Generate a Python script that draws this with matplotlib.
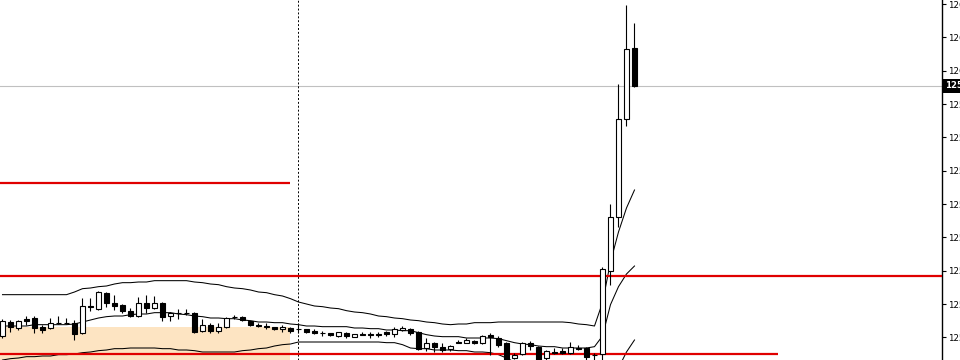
import matplotlib
matplotlib.use("Agg")
import matplotlib.pyplot as plt
import matplotlib.transforms as mtransforms
import numpy as np

# ---- data ----
opens = [125.602, 125.623, 125.614, 125.628, 125.629, 125.616, 125.614, 125.622, 125.622, 125.622,
         125.607, 125.647, 125.643, 125.667, 125.652, 125.649, 125.640, 125.632, 125.652, 125.644,
         125.652, 125.632, 125.637, 125.637, 125.637, 125.610, 125.619, 125.610, 125.616, 125.631,
         125.631, 125.625, 125.619, 125.617, 125.616, 125.613, 125.614, 125.613, 125.613, 125.610,
         125.607, 125.607, 125.602, 125.607, 125.601, 125.605, 125.605, 125.605, 125.608, 125.605,
         125.611, 125.613, 125.608, 125.584, 125.592, 125.586, 125.583, 125.593, 125.592, 125.595,
         125.592, 125.604, 125.599, 125.592, 125.569, 125.575, 125.592, 125.586, 125.569, 125.578,
         125.580, 125.577, 125.584, 125.584, 125.574, 125.575, 125.700, 125.781, 125.928, 126.034]
highs = [125.628, 125.626, 125.626, 125.632, 125.632, 125.619, 125.629, 125.632, 125.629, 125.626,
         125.659, 125.659, 125.670, 125.668, 125.664, 125.650, 125.644, 125.661, 125.664, 125.662,
         125.653, 125.638, 125.643, 125.643, 125.638, 125.628, 125.622, 125.622, 125.631, 125.634,
         125.632, 125.625, 125.622, 125.622, 125.616, 125.619, 125.616, 125.622, 125.613, 125.613,
         125.610, 125.607, 125.608, 125.608, 125.605, 125.608, 125.608, 125.608, 125.610, 125.616,
         125.617, 125.614, 125.610, 125.599, 125.593, 125.592, 125.588, 125.596, 125.599, 125.596,
         125.604, 125.607, 125.602, 125.593, 125.577, 125.593, 125.595, 125.587, 125.581, 125.584,
         125.584, 125.593, 125.589, 125.586, 125.577, 125.706, 125.800, 125.980, 126.099, 126.072]
lows = [125.599, 125.608, 125.611, 125.619, 125.607, 125.607, 125.613, 125.620, 125.620, 125.596,
        125.605, 125.640, 125.641, 125.646, 125.641, 125.637, 125.631, 125.631, 125.637, 125.643,
        125.625, 125.625, 125.628, 125.634, 125.607, 125.608, 125.607, 125.607, 125.614, 125.628,
        125.625, 125.617, 125.616, 125.613, 125.611, 125.608, 125.607, 125.607, 125.607, 125.605,
        125.602, 125.602, 125.601, 125.599, 125.600, 125.603, 125.599, 125.601, 125.602, 125.601,
        125.610, 125.603, 125.581, 125.580, 125.578, 125.578, 125.580, 125.591, 125.591, 125.590,
        125.590, 125.574, 125.586, 125.559, 125.567, 125.573, 125.581, 125.559, 125.566, 125.575,
        125.575, 125.575, 125.581, 125.563, 125.563, 125.563, 125.679, 125.766, 125.917, 125.976]
closes = [125.625, 125.616, 125.625, 125.625, 125.614, 125.611, 125.622, 125.621, 125.621, 125.605,
          125.647, 125.646, 125.668, 125.652, 125.647, 125.640, 125.632, 125.652, 125.644, 125.652,
          125.631, 125.637, 125.636, 125.636, 125.608, 125.619, 125.610, 125.616, 125.629, 125.630,
          125.626, 125.619, 125.617, 125.616, 125.613, 125.616, 125.610, 125.612, 125.608, 125.607,
          125.606, 125.603, 125.608, 125.602, 125.605, 125.604, 125.604, 125.604, 125.605, 125.613,
          125.614, 125.607, 125.583, 125.592, 125.586, 125.581, 125.587, 125.592, 125.596, 125.592,
          125.602, 125.601, 125.589, 125.563, 125.574, 125.592, 125.587, 125.563, 125.580, 125.577,
          125.577, 125.586, 125.583, 125.571, 125.573, 125.703, 125.781, 125.928, 126.033, 125.977]

bb_upper = [125.664, 125.664, 125.664, 125.664, 125.664, 125.664, 125.664, 125.664, 125.664, 125.668,
            125.673, 125.674, 125.676, 125.677, 125.680, 125.682, 125.682, 125.683, 125.683, 125.685,
            125.685, 125.685, 125.685, 125.685, 125.683, 125.682, 125.680, 125.679, 125.676, 125.674,
            125.673, 125.671, 125.668, 125.667, 125.664, 125.662, 125.658, 125.653, 125.650, 125.647,
            125.646, 125.644, 125.643, 125.640, 125.638, 125.637, 125.635, 125.632, 125.631, 125.629,
            125.628, 125.626, 125.625, 125.623, 125.622, 125.620, 125.619, 125.620, 125.620, 125.622,
            125.622, 125.622, 125.623, 125.623, 125.623, 125.623, 125.623, 125.623, 125.623, 125.623,
            125.623, 125.622, 125.620, 125.619, 125.617, 125.652, 125.713, 125.758, 125.794, 125.821]
bb_mid = [125.617, 125.617, 125.617, 125.617, 125.619, 125.619, 125.619, 125.619, 125.619, 125.620,
          125.623, 125.626, 125.629, 125.631, 125.632, 125.632, 125.634, 125.635, 125.635, 125.637,
          125.637, 125.637, 125.635, 125.634, 125.632, 125.631, 125.629, 125.629, 125.628, 125.628,
          125.626, 125.625, 125.623, 125.623, 125.622, 125.622, 125.620, 125.619, 125.617, 125.617,
          125.616, 125.616, 125.616, 125.616, 125.614, 125.614, 125.613, 125.613, 125.611, 125.611,
          125.610, 125.610, 125.607, 125.604, 125.602, 125.601, 125.601, 125.601, 125.599, 125.599,
          125.599, 125.599, 125.598, 125.595, 125.592, 125.590, 125.589, 125.587, 125.586, 125.586,
          125.584, 125.584, 125.584, 125.584, 125.586, 125.602, 125.649, 125.676, 125.695, 125.707]
bb_lower = [125.566, 125.568, 125.569, 125.571, 125.571, 125.572, 125.572, 125.574, 125.574, 125.575,
            125.577, 125.578, 125.580, 125.581, 125.583, 125.583, 125.584, 125.584, 125.584, 125.584,
            125.583, 125.583, 125.581, 125.581, 125.580, 125.578, 125.578, 125.578, 125.578, 125.578,
            125.580, 125.581, 125.583, 125.584, 125.587, 125.589, 125.590, 125.593, 125.593, 125.593,
            125.593, 125.593, 125.593, 125.593, 125.593, 125.593, 125.593, 125.593, 125.592, 125.592,
            125.589, 125.584, 125.583, 125.583, 125.581, 125.581, 125.581, 125.580, 125.580, 125.578,
            125.578, 125.577, 125.574, 125.569, 125.563, 125.561, 125.560, 125.559, 125.557, 125.557,
            125.556, 125.556, 125.556, 125.554, 125.551, 125.544, 125.536, 125.554, 125.578, 125.596]

level_lines = [125.8315, 125.692, 125.575]      # red horizontal levels
level_ends = [35.95, None, 96.9]                # candle index where each level ends (None = full width)
zone_top = 125.615                              # shaded zone top
zone_end = 35.9
marker_index = 37                               # dashed vertical marker
bid_price = 125.977
tick_values = [126.10, 126.05, 126.00, 125.95, 125.90, 125.85, 125.80, 125.75, 125.70, 125.65, 125.60]

# ---- figure ----
fig = plt.figure(figsize=(9.6, 3.6), dpi=100)
ax = fig.add_axes([0, 0, 942 / 960, 1])
x = np.arange(len(opens))
ax.set_xlim(-0.3125, 117.44)
ax.set_ylim(125.566, 126.106)

# shaded zone
ax.fill_between([-1, zone_end], [zone_top, zone_top], [125.50, 125.50],
                color="#fde4c2", linewidth=0, zorder=0)

# bands
for band in (bb_upper, bb_mid, bb_lower):
    ax.plot(x, band, color="black", linewidth=0.75, zorder=2)

# red levels
xmin, xmax = ax.get_xlim()
for lvl, end in zip(level_lines, level_ends):
    ax.plot([xmin, xmax if end is None else end], [lvl, lvl], color="#e00000",
            linewidth=1.6, solid_capstyle="butt", zorder=3)

# bid line
ax.axhline(bid_price, color="#c0c0c0", linewidth=0.8, zorder=1)

# vertical dashed marker
ax.axvline(marker_index, color="black", linewidth=0.7, linestyle=(0, (2, 2)), zorder=1)

# candles
o = np.array(opens); c = np.array(closes); h = np.array(highs); l = np.array(lows)
ax.vlines(x, l, h, color="black", linewidth=0.8, zorder=4)
up = c >= o
bottoms = np.minimum(o, c)
heights = np.maximum(np.abs(c - o), 0.0004)
ax.bar(x[up], heights[up], bottom=bottoms[up], width=0.52, color="white",
       edgecolor="black", linewidth=0.8, zorder=5)
ax.bar(x[~up], heights[~up], bottom=bottoms[~up], width=0.52, color="black",
       edgecolor="black", linewidth=0.8, zorder=5)

# axis styling
for side in ("left", "top", "bottom"):
    ax.spines[side].set_visible(False)
ax.spines["right"].set_color("black")
ax.spines["right"].set_linewidth(1.0)
ax.set_xticks([])
ax.yaxis.tick_right()
ax.set_yticks(tick_values)
ax.set_yticklabels([f"{v:.3f}" for v in tick_values])
ax.tick_params(axis="y", direction="out", length=3, width=0.8, pad=1.5,
               labelsize=6.2, colors="black")

# bid price tag
trans = mtransforms.blended_transform_factory(ax.transAxes, ax.transData)
ax.text(1.003, bid_price, f"{bid_price:.3f}", transform=trans, ha="left", va="center",
        fontsize=6.2, fontweight="bold", color="white", clip_on=False, zorder=10,
        bbox=dict(facecolor="black", edgecolor="none", pad=1.6))

fig.savefig("out.png", dpi=100)
